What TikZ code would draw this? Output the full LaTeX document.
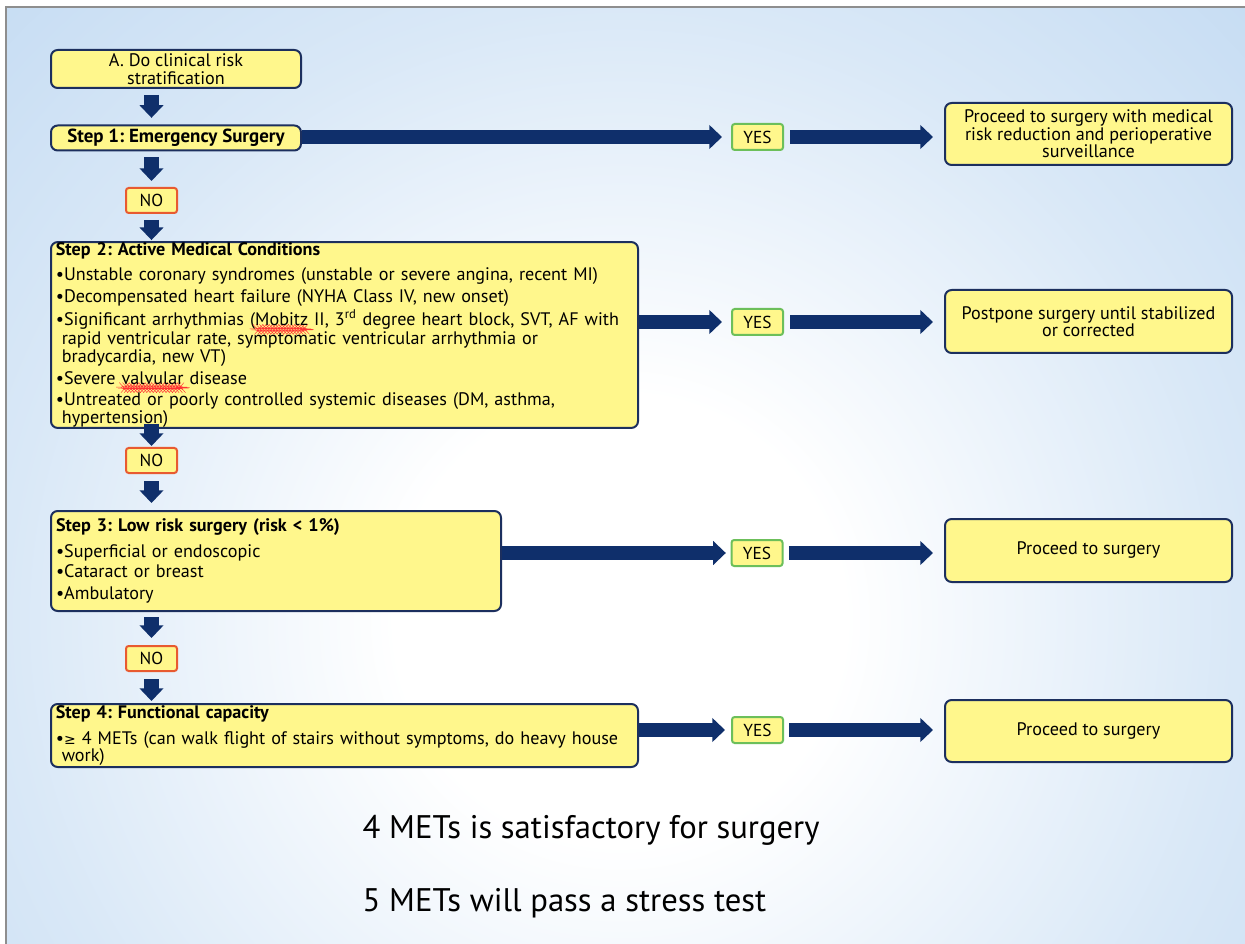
\documentclass[tikz,border=0pt]{standalone}
\usepackage{fontspec}
\setmainfont{PT Sans}
\newfontfamily\symfont{DejaVu Sans}
\usetikzlibrary{arrows.meta,decorations.pathmorphing}
\frenchspacing

\definecolor{navy}{HTML}{0F2F6B}
\definecolor{boxedge}{HTML}{1C2F5E}
\definecolor{boxfill}{HTML}{FFF78C}
\definecolor{noedge}{HTML}{E85A30}
\definecolor{yesedge}{HTML}{6CBF5A}
\definecolor{bgblue}{HTML}{BAD5F0}
\definecolor{bgmid}{HTML}{D9E8F7}
\definecolor{slideframe}{HTML}{8E8E8E}

% red wavy underline as left by a spell checker
\newcommand\spellwave[1]{\setbox0\hbox{#1}\rlap{\tikz[baseline=0pt]\draw[red!80, line width=0.3pt,
  decorate, decoration={snake, amplitude=0.45pt, segment length=2.4pt}] (0pt,-2.6pt) -- (\the\wd0,-2.6pt);}\box0\relax}

\pgfdeclareradialshading{slidebg}{\pgfpoint{0bp}{0bp}}{color(0bp)=(white); color(8bp)=(white); color(22bp)=(bgmid); color(38bp)=(bgblue); color(50bp)=(bgblue)}

\tikzset{
  box/.style={draw=boxedge, fill=boxfill, line width=1.5pt, rounded corners=5pt, inner sep=0pt},
  stepbox/.style={box, align=left, inner xsep=3.6pt, font=\fontsize{13.6}{13.9}\selectfont},
  centerbox/.style={box, align=center, font=\fontsize{13.6}{13.2}\selectfont},
  nobox/.style={draw=noedge, fill=boxfill, line width=1.5pt, rounded corners=2pt, inner sep=0pt,
    minimum width=38.25pt, minimum height=18.75pt, font=\fontsize{13}{14}\selectfont},
  yesbox/.style={nobox, draw=yesedge, minimum height=19.5pt},
  flow/.style={navy, line width=10.75pt, -{Triangle[length=9.5pt, width=17.5pt]}},
  note/.style={anchor=base west, font=\fontsize{24.5}{28}\selectfont}
}

\begin{document}
\begin{tikzpicture}[x=0.75pt, y=-0.75pt]
\useasboundingbox (0,0) rectangle (1245,944);

% slide background: pale centre fading to blue towards the edges
\fill[white] (0,0) rectangle (1245,944);
\begin{scope}
  \clip (6,7) rectangle (1245,944);
  \shade[shading=slidebg] (-80,-80) rectangle (1320,1320);
\end{scope}
\draw[slideframe, line width=1.5pt] (6,944) -- (6,7) -- (1245,7);

% left column
\node[centerbox, minimum width=187.5pt, minimum height=28.5pt] (A) at (176,69)
  {A. Do clinical risk\\stratification};
\node[centerbox, minimum width=187.5pt, minimum height=18.75pt, font=\fontsize{14.2}{14}\selectfont] (S1) at (176,138)
  {\textbf{Step 1: Emergency Surgery}};
\node[nobox] (NO1) at (151.5,200.5) {NO};

\node[stepbox, minimum width=440.25pt, minimum height=138pt, text width=433pt] (S2) at (344.5,335)
  {\textbf{Step 2: Active Medical Conditions}\\[5.5pt]
   •Unstable coronary syndromes (unstable or severe angina, recent MI)\\[2pt]
   •Decompensated heart failure (NYHA Class IV, new onset)\\[2pt]
   •Significant arrhythmias (\spellwave{Mobitz} II, 3\textsuperscript{rd} degree heart block, SVT, AF with\\
   \hspace*{4.5pt}rapid ventricular rate, symptomatic ventricular arrhythmia or\\
   \hspace*{4.5pt}bradycardia, new VT)\\[2pt]
   •Severe \spellwave{valvular} disease\\[2pt]
   •Untreated or poorly controlled systemic diseases (DM, asthma,\\
   \hspace*{4.5pt}hypertension)};
\node[nobox] (NO2) at (151.5,460.5) {NO};

\node[stepbox, minimum width=337.5pt, minimum height=75pt, text width=330pt] (S3) at (276,561)
  {\textbf{Step 3: Low risk surgery (risk < 1\%)}\\[5.5pt]
   •Superficial or endoscopic\\[1.5pt]
   •Cataract or breast\\[2.5pt]
   •Ambulatory};
\node[nobox] (NO3) at (151.5,658.5) {NO};

\node[stepbox, minimum width=440.25pt, minimum height=47.25pt, text width=433pt] (S4) at (344.5,735.5)
  {\textbf{Step 4: Functional capacity}\\[6pt]
   •{\symfont\fontsize{10.5}{12}\selectfont ≥} 4 METs (can walk flight of stairs without symptoms, do heavy house\\[-1pt]
   \hspace*{4.5pt}work)};

% YES labels
\node[yesbox] (YES1) at (757.5,137) {YES};
\node[yesbox] (YES2) at (757.5,322) {YES};
\node[yesbox] (YES3) at (757,553) {YES};
\node[yesbox] (YES4) at (757.5,730) {YES};

% outcomes
\node[centerbox, minimum width=215.25pt, minimum height=46.5pt] (R1) at (1088.5,134)
  {Proceed to surgery with medical\\risk reduction and perioperative\\surveillance};
\node[centerbox, minimum width=215.25pt, minimum height=47.25pt] (R2) at (1088.5,321.5)
  {Postpone surgery until stabilized\\or corrected};
\node[centerbox, minimum width=215.25pt, minimum height=47.25pt] (R3) at (1088.5,550.5)
  {Proceed to surgery};
\node[centerbox, minimum width=215.25pt, minimum height=46.5pt] (R4) at (1088.5,731)
  {Proceed to surgery};

% downward flow
\draw[flow, shorten <=4.5pt, shorten >=5pt] (NO1 |- A.south) -- (NO1 |- S1.north);
\draw[flow, shorten <=4.5pt, shorten >=4.5pt] (NO1 |- S1.south) -- (NO1.north);
\draw[flow, shorten <=4.5pt, shorten >=0.75pt] (NO1.south) -- (NO1 |- S2.north);
\draw[flow, shorten <=-3.75pt, shorten >=0.75pt] (NO2 |- S2.south) -- (NO2.north);
\draw[flow, shorten <=5.25pt, shorten >=5.25pt] (NO2.south) -- (NO2 |- S3.north);
\draw[flow, shorten <=3.75pt, shorten >=5.25pt] (NO3 |- S3.south) -- (NO3.north);
\draw[flow, shorten <=5.25pt, shorten >=1.5pt] (NO3.south) -- (NO3 |- S4.north);

% YES branches
\draw[flow, shorten >=6.75pt] (S1.east |- YES1) -- (YES1.west);
\draw[flow, shorten <=4.5pt, shorten >=8.25pt] (YES1.east) -- (YES1.east -| R1.west);
\draw[flow, shorten >=6.75pt] (S2.east |- YES2) -- (YES2.west);
\draw[flow, shorten <=4.5pt, shorten >=8.25pt] (YES2.east) -- (YES2.east -| R2.west);
\draw[flow, shorten >=3.5pt] (S3.east |- YES3) -- (YES3.west);
\draw[flow, shorten <=4pt, shorten >=8.25pt] (YES3.east) -- (YES3.east -| R3.west);
\draw[flow, shorten >=4.5pt] (S4.east |- YES4) -- (YES4.west);
\draw[flow, shorten <=4pt, shorten >=8.25pt] (YES4.east) -- (YES4.east -| R4.west);

% notes
\node[note] (met4) at (358,838) {4 METs is satisfactory for surgery};
\node[note] (met5) at (358,911) {5 METs will pass a stress test};
\end{tikzpicture}
\end{document}
